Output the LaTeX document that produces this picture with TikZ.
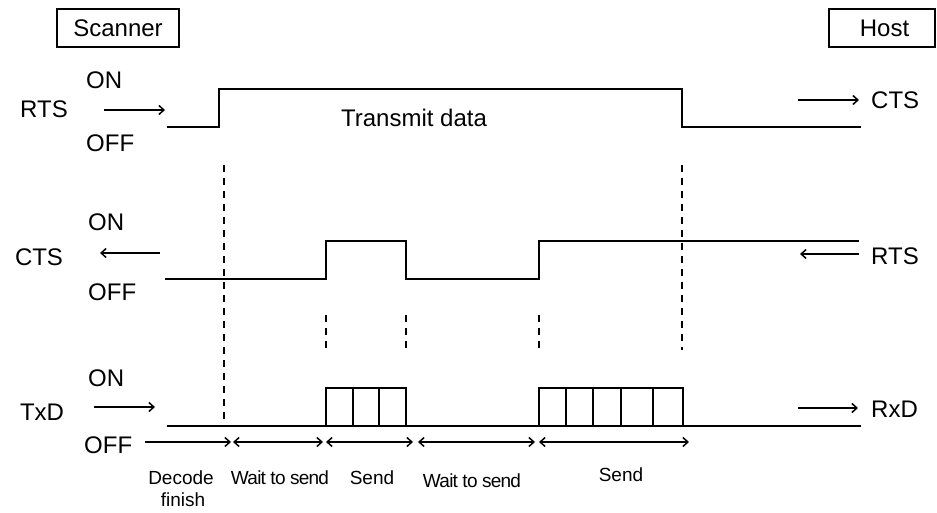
\documentclass[tikz,border=0pt]{standalone}
\usepackage{fontspec}
\setmainfont{Liberation Sans}
\usetikzlibrary{arrows.meta}
\begin{document}
\begin{tikzpicture}[x=1pt,y=-1pt,
  sig/.style={line width=1.8pt},
  lbl/.style={font=\fontsize{24}{28}\selectfont, inner sep=0pt},
  sml/.style={font=\fontsize{19}{22}\selectfont, inner sep=0pt},
  box/.style={draw, line width=1.5pt, minimum height=38pt, inner sep=0pt, font=\fontsize{24}{28}\selectfont},
  arr/.style={line width=1.5pt, -{Straight Barb[length=5pt,width=9pt,line width=1.5pt]}},
  darr/.style={line width=1.5pt, {Straight Barb[length=5pt,width=9pt,line width=1.5pt]}-{Straight Barb[length=5pt,width=9pt,line width=1.5pt]}},
  dsh/.style={line width=1.6pt, dash pattern=on 7pt off 6pt}
]
\useasboundingbox (0,0) rectangle (937,513);

% header boxes
\node[box, minimum width=122pt] (scanner) at (118,28) {Scanner};
\node[box, minimum width=106pt] (host) at (882,28) {\hspace*{5pt}Host};

% ---- RTS (scanner) / CTS (host)
\node[lbl] (rtsL) at (44,109) {RTS};
\node[lbl, anchor=west] (on1) at (86,80) {ON};
\node[lbl, anchor=west] (off1) at (86,143) {OFF};
\node[lbl, anchor=west] (ctsR) at (871,100) {CTS};
\node[lbl] (tx) at (414,118) {Transmit data};
\coordinate (a1s) at (104,110); \coordinate (a1e) at (165,110);
\coordinate (a2s) at (798,100); \coordinate (a2e) at (859,100);
\draw[arr] (a1s) -- (a1e);
\draw[arr] (a2s) -- (a2e);
\draw[sig] (167,127) -- (219,127) -- (219,89) -- (682,89) -- (682,127) -- (861,127);

% ---- CTS (scanner) / RTS (host)
\node[lbl] (ctsL) at (39,257) {CTS};
\node[lbl, anchor=west] (on2) at (88,222) {ON};
\node[lbl, anchor=west] (off2) at (88,292) {OFF};
\node[lbl, anchor=west] (rtsR) at (871,256) {RTS};
\coordinate (b1s) at (160,253); \coordinate (b1e) at (100,253);
\coordinate (b2s) at (859,254); \coordinate (b2e) at (800,254);
\draw[arr] (b1s) -- (b1e);
\draw[arr] (b2s) -- (b2e);
\draw[sig] (165,279) -- (326,279) -- (326,241) -- (406,241) -- (406,279) -- (539,279) -- (539,241) -- (859,241);

% ---- TxD / RxD
\node[lbl] (txdL) at (42,412) {TxD};
\node[lbl, anchor=west] (on3) at (88,378) {ON};
\node[lbl, anchor=west] (off3) at (84,445) {OFF};
\node[lbl, anchor=west] (rxdR) at (871,409) {RxD};
\coordinate (c1s) at (94,407); \coordinate (c1e) at (155,407);
\coordinate (c2s) at (798,408); \coordinate (c2e) at (858,408);
\draw[arr] (c1s) -- (c1e);
\draw[arr] (c2s) -- (c2e);
\draw[sig] (167,426) -- (861,426);
\draw[sig] (326,426) -- (326,388) -- (406,388) -- (406,426);
\foreach \x in {353,379} \draw[sig] (\x,388) -- (\x,426);
\draw[sig] (539,426) -- (539,388) -- (683,388) -- (683,426);
\foreach \x in {566,593,621,653} \draw[sig] (\x,388) -- (\x,426);

% dashed markers
\draw[dsh] (224,165) -- (224,426);
\draw[dsh] (682,165) -- (682,350);
\foreach \x in {326,406,539} \draw[dsh] (\x,315) -- (\x,350);

% timeline
\coordinate (t0) at (145,442); \coordinate (t1) at (231,442);
\coordinate (t2) at (233,442); \coordinate (t3) at (323,442);
\coordinate (t4) at (326,442); \coordinate (t5) at (413,442);
\coordinate (t6) at (418,442); \coordinate (t7) at (535,442);
\coordinate (t8) at (539,442); \coordinate (t9) at (689,442);
\draw[arr] (t0) -- (t1);
\draw[darr] (t2) -- (t3);
\draw[darr] (t4) -- (t5);
\draw[darr] (t6) -- (t7);
\draw[darr] (t8) -- (t9);

\node[sml] (dec) at (181,478) {Decode};
\node[sml] (fin) at (183,500) {finish};
\node[sml] (w1) at (280,478) {\addfontfeature{LetterSpace=-4}Wait to send};
\node[sml] (s1) at (372,478) {Send};
\node[sml] (w2) at (472,481) {\addfontfeature{LetterSpace=-4}Wait to send};
\node[sml] (s2) at (621,475) {Send};
\end{tikzpicture}
\end{document}
